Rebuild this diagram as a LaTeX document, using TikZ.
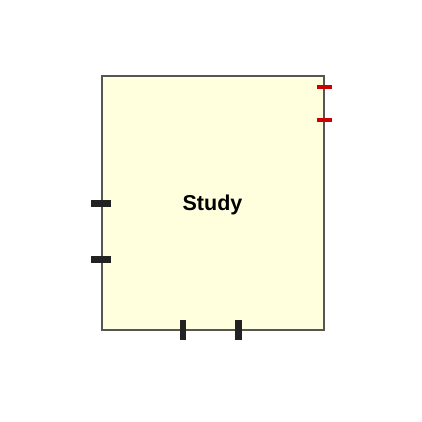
\documentclass[tikz,border=0pt]{standalone}
\usepackage{fontspec}
\setmainfont{Liberation Sans}
\definecolor{boxfill}{HTML}{FFFFDD}
\definecolor{boxline}{HTML}{555555}
\definecolor{tickdark}{HTML}{222222}
\definecolor{tickred}{HTML}{CC0000}
\tikzset{
  boxstyle/.style={draw=boxline, fill=boxfill, line width=1.3pt},
  darktick/.style={draw=tickdark, line width=6.5pt},
  redtick/.style={draw=tickred, line width=4pt},
}
\begin{document}
\begin{tikzpicture}[x=1pt,y=-1pt]
\useasboundingbox (0,0) rectangle (422,422);
\fill[white] (0,0) rectangle (422,422);
\draw[boxstyle] (102,76) rectangle (324,330);
\node[font=\bfseries\fontsize{21.5}{25}\selectfont] (study) at (212.5,204.5) {Study};
\coordinate (l1a) at (91,203.5); \coordinate (l1b) at (111,203.5);
\coordinate (l2a) at (91,259.5); \coordinate (l2b) at (111,259.5);
\coordinate (b1a) at (183,320); \coordinate (b1b) at (183,340);
\coordinate (b2a) at (238.5,320); \coordinate (b2b) at (238.5,340);
\coordinate (r1a) at (316.5,87); \coordinate (r1b) at (331.5,87);
\coordinate (r2a) at (316.5,120.5); \coordinate (r2b) at (331.5,120.5);
\draw[darktick] (l1a) -- (l1b);
\draw[darktick] (l2a) -- (l2b);
\draw[darktick] (b1a) -- (b1b);
\draw[darktick] (b2a) -- (b2b);
\draw[redtick] (r1a) -- (r1b);
\draw[redtick] (r2a) -- (r2b);
\end{tikzpicture}
\end{document}
